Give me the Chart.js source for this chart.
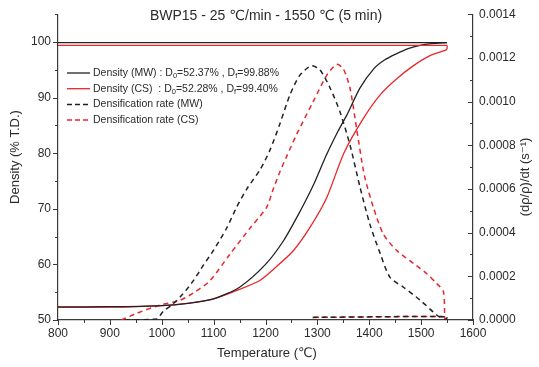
<!DOCTYPE html>
<html>
<head>
<meta charset="utf-8">
<script src="https://cdn.jsdelivr.net/npm/chart.js@4.4.1/dist/chart.umd.min.js"></script>
<style>
  html, body { margin: 0; padding: 0; background: #fff; }
  #wrap { width: 539px; height: 367px; }
</style>
</head>
<body>
<div id="wrap"><canvas id="chart" width="539" height="367"></canvas></div>
<script>
// density (% T.D.) vs temperature
const mwDensityT = [800, 900, 1000, 1050, 1100, 1150, 1200, 1235, 1267, 1293, 1318, 1340, 1357, 1382, 1409, 1430, 1453, 1475, 1498, 1520, 1550];
const mwDensity  = [52.37, 52.39, 52.6, 53.0, 53.8, 55.9, 60.0, 64.3, 69.6, 74.4, 79.8, 84.0, 86.9, 91.7, 95.2, 96.8, 97.9, 98.8, 99.4, 99.7, 99.88];
const csDensityT = [800, 900, 1000, 1050, 1100, 1150, 1189, 1220, 1254, 1286, 1318, 1351, 1389, 1421, 1453, 1486, 1518, 1546, 1550, 1550];
const csDensity  = [52.28, 52.3, 52.6, 53.0, 53.8, 55.5, 57.1, 59.5, 62.5, 66.7, 72.0, 80.0, 86.3, 90.5, 93.4, 95.8, 97.6, 98.5, 98.8, 99.4];

// densification rate (1/s) vs temperature
const mwRateT = [930, 990, 1003, 1020, 1041, 1061, 1080, 1100, 1125, 1145, 1164, 1190, 1209, 1228, 1247, 1266, 1289, 1305, 1325, 1344, 1363, 1382, 1401, 1421, 1440, 1466, 1498, 1530, 1546, 1550, 1290];
const mwRate  = [0, 0.000005, 0.00004, 0.00007, 0.00012, 0.00018, 0.00025, 0.00032, 0.00042, 0.00052, 0.0006, 0.00069, 0.00078, 0.0009, 0.00103, 0.00112, 0.001164, 0.001145, 0.00106, 0.00095, 0.0008, 0.00061, 0.00044, 0.000305, 0.000195, 0.00015, 0.000091, 0.000023, 0, 0.000015, 0.000012];
const csRateT = [922, 951, 996, 1035, 1065, 1093, 1131, 1170, 1202, 1215, 1228, 1241, 1260, 1292, 1318, 1337, 1350, 1363, 1376, 1389, 1395, 1408, 1427, 1453, 1486, 1511, 1530, 1543, 1546, 1550, 1290];
const csRate  = [0, 0.00003, 0.000068, 0.00009, 0.00013, 0.00018, 0.0003, 0.00042, 0.000515, 0.0006, 0.00068, 0.00075, 0.00085, 0.001, 0.00112, 0.00117, 0.00115, 0.00106, 0.00087, 0.00068, 0.00062, 0.000515, 0.000394, 0.000318, 0.000258, 0.000212, 0.000167, 0.00013, 0, 0.000015, 0.000012];

// D0 / Df from the legend, Df also drawn as flat lines
const mwD0 = 52.37, mwDf = 99.88;
const csD0 = 52.28, csDf = 99.40;
const holdT = [800, 1550];

const xTicks  = [800, 900, 1000, 1100, 1200, 1300, 1400, 1500, 1600];
const yTicks  = [50, 60, 70, 80, 90, 100];
const y2Ticks = [0, 0.0002, 0.0004, 0.0006, 0.0008, 0.0010, 0.0012, 0.0014];

const titleText = 'BWP15 - 25 \u2103/min - 1550 \u2103 (5 min)';
const xTitle  = 'Temperature (\u2103)';
const yTitle  = 'Density (% T.D.)';
const y2Title = '(d\u03c1/\u03c1)/dt (s\u207b\u00b9)';

const BLACK = '#222222', RED = '#e8262b', AXIS = '#3a3a3a', TEXT = '#2a2a2a';
const FONT = '"Liberation Sans", Arial, "DejaVu Sans", sans-serif';

const pts = (xs, ys) => xs.map((x, i) => ({ x: x, y: ys[i] }));

const lineSet = (data, color, dashed, axis) => ({
  data: data,
  yAxisID: axis,
  showLine: true,
  borderColor: color,
  borderWidth: dashed ? 1.5 : 1.3,
  borderDash: dashed ? [5, 4] : [],
  pointRadius: 0,
  tension: 0.25,
  fill: false
});

// legend rows: [label parts, colour, dashed]; arrays inside = subscript
const legendRows = [
  [['Density (MW) : D', ['0'], '=' + mwD0.toFixed(2) + '% , D', ['f'], '=' + mwDf.toFixed(2) + '%'], BLACK, false],
  [['Density (CS)  : D', ['0'], '=' + csD0.toFixed(2) + '% , D', ['f'], '=' + csDf.toFixed(2) + '%'], RED, false],
  [['Densification rate (MW)'], BLACK, true],
  [['Densification rate (CS)'], RED, true]
];

const decor = {
  id: 'decor',
  afterDraw(chart) {
    const { ctx, chartArea: a, scales: { x, y, y2 } } = chart;
    ctx.save();
    ctx.strokeStyle = AXIS;
    ctx.lineWidth = 1;
    const mark = (x1, y1, x2, y2_) => {
      ctx.beginPath(); ctx.moveTo(x1, y1); ctx.lineTo(x2, y2_); ctx.stroke();
    };
    // tick marks, major + minor
    for (let v = 800; v <= 1600; v += 50) {
      const px = Math.round(x.getPixelForValue(v)) + 0.5;
      mark(px, a.bottom, px, a.bottom + (v % 100 ? 3 : 5));
    }
    for (let v = 50; v <= 105; v += 5) {
      const py = Math.round(y.getPixelForValue(v)) + 0.5;
      mark(a.left, py, a.left - (v % 10 ? 3 : 5), py);
    }
    for (let k = 0; k <= 14; k++) {
      const py = Math.round(y2.getPixelForValue(k * 0.0001)) + 0.5;
      mark(a.right, py, a.right - (k % 2 ? 3 : 5), py);
    }

    ctx.fillStyle = TEXT;
    ctx.textAlign = 'center';
    ctx.textBaseline = 'middle';
    ctx.font = '14px ' + FONT;
    ctx.fillText(titleText, 266, 16);
    ctx.font = '13px ' + FONT;
    ctx.fillText(xTitle, 267, 353);

    ctx.save();
    ctx.translate(15, 157);
    ctx.rotate(-Math.PI / 2);
    ctx.fillText(yTitle, 0, 0);
    ctx.restore();
    ctx.save();
    ctx.translate(525, 177);
    ctx.rotate(-Math.PI / 2);
    ctx.fillText(y2Title, 0, 0);
    ctx.restore();

    // legend
    ctx.textAlign = 'left';
    legendRows.forEach(([parts, color, dashed], i) => {
      const ly = 73 + i * 15.7;
      ctx.strokeStyle = color;
      ctx.lineWidth = dashed ? 1.5 : 1.3;
      ctx.setLineDash(dashed ? [5, 3] : []);
      mark(67, ly, 90, ly);
      ctx.setLineDash([]);
      let tx = 93;
      ctx.fillStyle = TEXT;
      parts.forEach(p => {
        if (Array.isArray(p)) {
          ctx.font = '7.5px ' + FONT;
          ctx.fillText(p[0], tx, ly + 3);
          tx += ctx.measureText(p[0]).width;
        } else {
          ctx.font = '10.5px ' + FONT;
          ctx.fillText(p, tx, ly);
          tx += ctx.measureText(p).width;
        }
      });
    });
    ctx.restore();
  }
};

const tickFont = { family: FONT, size: 12 };

new Chart(document.getElementById('chart'), {
  type: 'scatter',
  data: {
    datasets: [
      lineSet(pts(holdT, [mwDf, mwDf]), BLACK, false, 'y'),
      lineSet(pts(holdT, [csDf, csDf]), RED, false, 'y'),
      lineSet(pts(mwDensityT, mwDensity), BLACK, false, 'y'),
      lineSet(pts(csDensityT, csDensity), RED, false, 'y'),
      lineSet(pts(mwRateT, mwRate), BLACK, true, 'y2'),
      lineSet(pts(csRateT, csRate), RED, true, 'y2')
    ]
  },
  options: {
    responsive: false,
    animation: false,
    devicePixelRatio: 1,
    layout: { padding: { top: 12, left: 0, right: 0, bottom: 0 } },
    plugins: { legend: { display: false }, title: { display: false }, tooltip: { enabled: false } },
    scales: {
      x: {
        type: 'linear', min: 800, max: 1600,
        afterBuildTicks: s => { s.ticks = xTicks.map(v => ({ value: v })); },
        afterFit: s => { s.height = 47; },
        ticks: { font: tickFont, color: TEXT, padding: 6, maxRotation: 0, callback: v => String(v) },
        grid: { display: false, drawTicks: false },
        border: { display: true, color: AXIS, width: 1.2 }
      },
      y: {
        position: 'left', min: 50, max: 105,
        afterBuildTicks: s => { s.ticks = yTicks.map(v => ({ value: v })); },
        afterFit: s => { s.width = 58; },
        ticks: { font: tickFont, color: TEXT, padding: 7, callback: v => String(v) },
        grid: { display: false, drawTicks: false },
        border: { display: true, color: AXIS, width: 1.2 }
      },
      y2: {
        position: 'right', min: 0, max: 0.0014,
        afterBuildTicks: s => { s.ticks = y2Ticks.map(v => ({ value: v })); },
        afterFit: s => { s.width = 66; },
        ticks: { font: tickFont, color: TEXT, padding: 6, callback: v => v.toFixed(4) },
        grid: { display: false, drawTicks: false },
        border: { display: true, color: AXIS, width: 1.2 }
      }
    }
  },
  plugins: [decor]
});
</script>
</body>
</html>
